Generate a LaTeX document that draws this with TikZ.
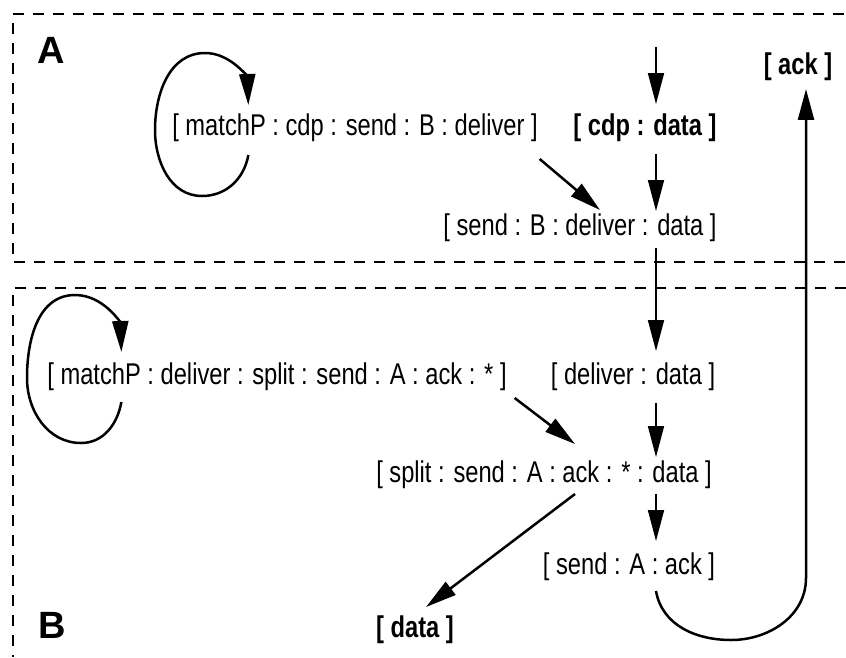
\documentclass[tikz,border=0pt]{standalone}
\usepackage{fontspec}
\setmainfont{Liberation Sans}[FakeStretch=0.79]
\newfontfamily\panelfont{Liberation Sans}
\usetikzlibrary{arrows.meta,calc}

\tikzset{
  term/.style={inner sep=0pt, outer sep=0pt, font=\fontsize{30}{32}\selectfont},
  bterm/.style={term, font=\fontsize{30}{32}\selectfont\bfseries},
  panel/.style={inner sep=0pt, font=\panelfont\fontsize{38}{40}\selectfont\bfseries},
  tip/.style={-{Triangle[length=31pt,width=16pt]}},
  flow/.style={tip, line width=1.7pt},
  hop/.style={tip, line width=2.5pt},
  frame/.style={line width=2.7pt, dash pattern=on 11pt off 9pt},
}

\begin{document}
\begin{tikzpicture}[x=1pt, y=-1pt]
  \useasboundingbox (0,0) rectangle (846,657);

  % dashed frames of the two parties
  \draw[frame] (13,14) -- (846,14);
  \draw[frame] (13,23) -- (13,262) -- (846,262);
  \draw[frame] (846,288) -- (13,288) -- (13,657);

  % panel letters
  \node[panel] (pa) at (51,50) {A};
  \node[panel] (pb) at (52,625) {B};

  % message stacks of party A
  \node[term]  (mA)   at (355,128) {[ matchP : cdp : send : B : deliver ]};
  \node[bterm] (cdp)  at (645,128) {[ cdp : data ]};
  \node[bterm] (ack)  at (798,67)  {[ ack ]};
  \node[term]  (sbdd) at (580,228) {[ send : B : deliver : data ]};

  % message stacks of party B
  \node[term]  (mB)    at (277,377) {[ matchP : deliver : split : send : A : ack : * ]};
  \node[term]  (dd)    at (633,377) {[ deliver : data ]};
  \node[term]  (split) at (544,475) {[ split : send : A : ack : * : data ]};
  \node[term]  (sack)  at (629,567) {[ send : A : ack ]};
  \node[bterm] (data)  at (415,630) {[ data ]};

  % columns of the vertical flows
  \coordinate (col) at (656,0);
  \coordinate (rcol) at (806,0);
  \coordinate (src) at (656,47);

  % main vertical flow
  \draw[flow, shorten >=10pt] (src) -- (cdp.north -| col);
  \draw[flow, shorten <=12pt, shorten >=3pt] (cdp.south -| col) -- (sbdd.north -| col);
  \draw[flow, shorten <=6pt, shorten >=12pt] (sbdd.south -| col) -- (dd.north -| col);
  \draw[flow, shorten <=12pt, shorten >=4pt] (dd.south -| col) -- (split.north -| col);
  \draw[flow, shorten <=5pt, shorten >=12pt] (split.south -| col) -- (sack.north -| col);

  % acknowledgement returning to A
  \draw[hop, shorten >=8pt] ($(sack.south -| col)+(0,10)$)
      to[out=-80, in=180] (731,640)
      to[out=0, in=-90] (806,578)
      -- (ack.south -| rcol);

  % diagonal steps
  \draw[hop] ($(mA.south east)+(2,17)$) -- ($(sbdd.north)+(20,-4)$);
  \draw[hop] ($(mB.south east)+(8,7)$) -- ($(split.north)+(31,-17)$);
  \draw[hop] ($(split.south)+(31,5)$) -- ($(data.north)+(11,-9)$);

  % self loops of the matchP stacks
  \draw[hop] ($(mA.west)+(76,27)$)
      to[out=-100, in=0] (202,196)
      to[out=180, in=-90] (155,130)
      to[out=90, in=180] (205,53)
      to[out=0, in=92] ($(mA.west)+(76,-23)$);
  \draw[hop] ($(mB.west)+(74,25)$)
      to[out=-100, in=0] (81,443)
      to[out=180, in=-90] (27,378)
      to[out=90, in=180] (75,295)
      to[out=0, in=92] ($(mB.west)+(74,-25)$);
\end{tikzpicture}
\end{document}
